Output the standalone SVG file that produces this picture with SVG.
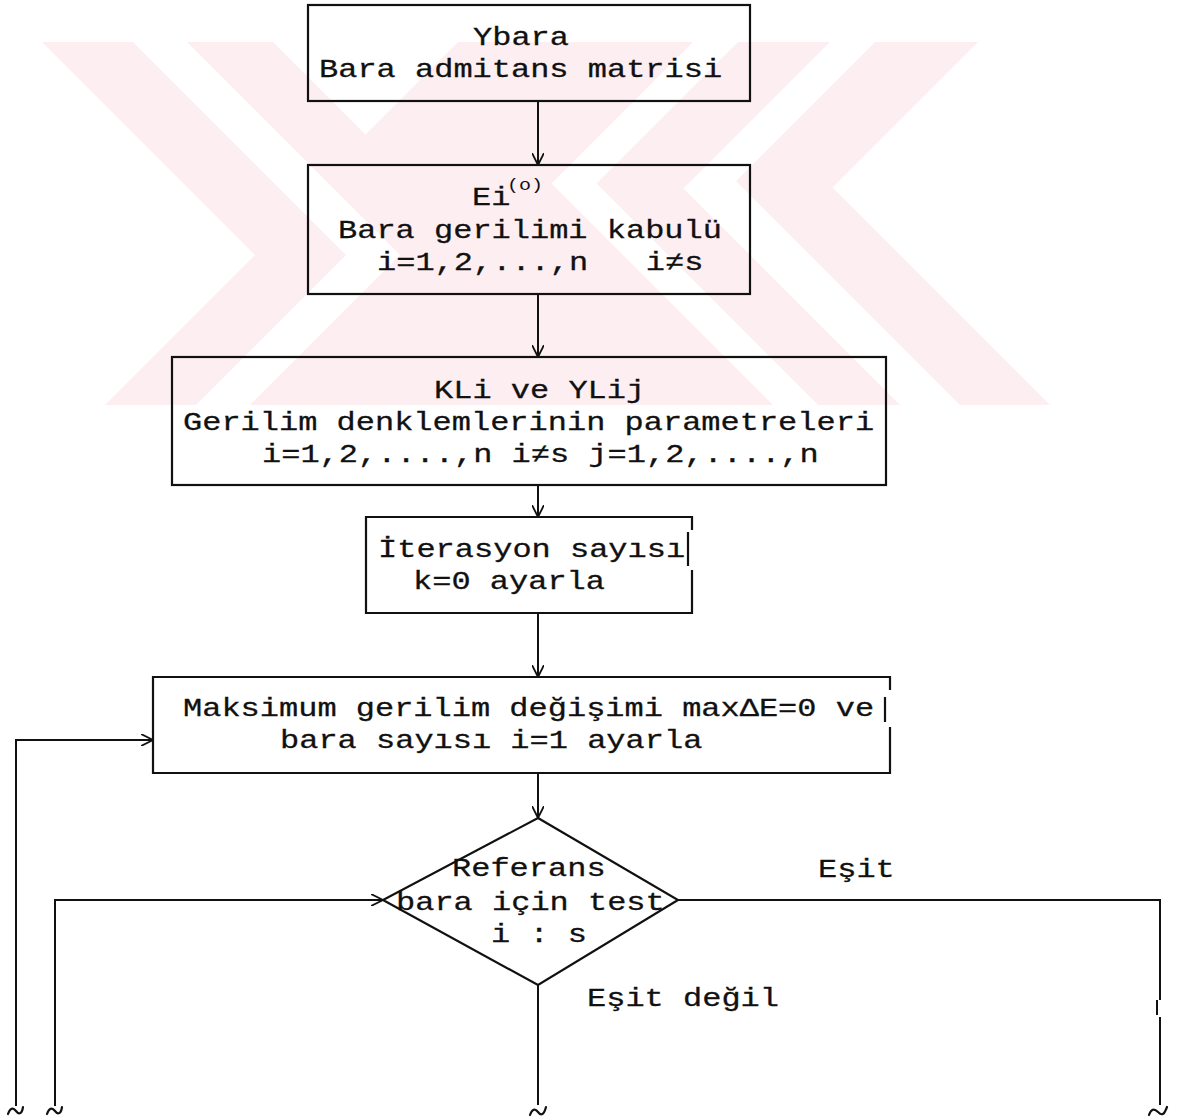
<svg xmlns="http://www.w3.org/2000/svg" width="1189" height="1117" viewBox="0 0 1189 1117">
<style>
.wm{fill:#fdeef1;stroke:none}
.box{fill:none;stroke:#111;stroke-width:2.2}
.t{font-family:"Liberation Mono","Courier New",monospace;font-size:32px;fill:#111;stroke:#111;stroke-width:0.35;white-space:pre}
.sup{font-family:"Liberation Mono","Courier New",monospace;font-size:20px;fill:#111;white-space:pre}
.c{fill:none;stroke:#111;stroke-width:2}
.sq{fill:none;stroke:#111;stroke-width:2.2;stroke-linecap:round}
</style>
<defs>
<marker id="ah" viewBox="0 0 12 12" refX="12" refY="6" markerWidth="12" markerHeight="12" markerUnits="userSpaceOnUse" orient="auto">
<path d="M0,0 L12,6 L0,12" fill="none" stroke="#111" stroke-width="1.8"/>
</marker>
</defs>
<rect width="1189" height="1117" fill="#fff"/>
<g id="watermark">
<polygon class="wm" points="42,42 133,42 346,255 196,405 105,405 255,255"/>
<polygon class="wm" points="187,42 273,42 365.5,134.5 458,42 693,42 551.5,183.5 773,405 250,405 400,255"/>
<polygon class="wm" points="738,42 830,42 683.5,188.5 900,405 818,405 596.5,183.5"/>
<polygon class="wm" points="875,42 978,42 832.5,187.5 1050,405 960,405 736,181"/>
</g>
<g id="connectors">
<path class="c" d="M538,101 V165" marker-end="url(#ah)"/>
<path class="c" d="M538,294 V357" marker-end="url(#ah)"/>
<path class="c" d="M538,485 V517" marker-end="url(#ah)"/>
<path class="c" d="M538,613 V677" marker-end="url(#ah)"/>
<path class="c" d="M538,773 V818" marker-end="url(#ah)"/>
<path class="c" d="M16,1106 V740 H153" marker-end="url(#ah)"/>
<path class="c" d="M55,1106 V900 H383" marker-end="url(#ah)"/>
<path class="c" d="M678,900 H1160 V1000 M1157,1000 V1015 M1160,1017 V1105"/>
<path class="c" d="M538,985 V1105"/>
<path class="sq" d="M8,1114 c2,-6 5,-7 8,-3 s6,3 7,-4"/>
<path class="sq" d="M47,1114 c2,-6 5,-7 8,-3 s6,3 7,-4"/>
<path class="sq" d="M530,1115 c2,-6 5,-7 8,-3 s6,3 8,-5"/>
<path class="sq" d="M1149,1115 c2,-6 5,-7 9,-3 s6,3 9,-5"/>
</g>
<g id="n1">
<rect class="box" x="308" y="5" width="442" height="96"/>
<text class="t" transform="translate(473,45) scale(1,0.8)">Ybara</text>
<text class="t" transform="translate(319,77) scale(1,0.8)">Bara admitans matrisi</text>
</g>
<g id="n2">
<rect class="box" x="308" y="165" width="442" height="129"/>
<text class="t" transform="translate(472,205) scale(1,0.8)">Ei</text>
<text class="sup" transform="translate(507,190) scale(1,0.85)">(o)</text>
<text class="t" transform="translate(338,238) scale(1,0.8)">Bara gerilimi kabulü</text>
<text class="t" transform="translate(377,270) scale(1,0.8)">i=1,2,...,n   i≠s</text>
</g>
<g id="n3">
<rect class="box" x="172" y="357" width="714" height="128"/>
<text class="t" transform="translate(434,398) scale(1,0.8)">KLi ve YLij</text>
<text class="t" transform="translate(183,430) scale(1,0.8)">Gerilim denklemlerinin parametreleri</text>
<text class="t" transform="translate(262,462) scale(1,0.8)">i=1,2,....,n i≠s j=1,2,....,n</text>
</g>
<g id="n4">
<path class="box" d="M692,530 V517 H366 V613 H692 V570 M688,532 V566"/>
<text class="t" transform="translate(378,557) scale(1,0.8)">İterasyon sayısı</text>
<text class="t" transform="translate(413,589) scale(1,0.8)">k=0 ayarla</text>
</g>
<g id="n5">
<path class="box" d="M890,690 V677 H153 V773 H890 V727 M885,697 V722"/>
<text class="t" transform="translate(183,716) scale(1,0.8)">Maksimum gerilim değişimi maxΔE=0 ve</text>
<text class="t" transform="translate(280,748) scale(1,0.8)">bara sayısı i=1 ayarla</text>
</g>
<g id="n6">
<polygon class="box" points="538,818 678,900 538,985 383,900"/>
<text class="t" transform="translate(452,876) scale(1,0.8)">Referans</text>
<text class="t" transform="translate(396,910) scale(1,0.8)">bara için test</text>
<text class="t" transform="translate(491,942) scale(1,0.8)">i : s</text>
</g>
<g id="labels">
<text class="t" transform="translate(818,877) scale(1,0.8)">Eşit</text>
<text class="t" transform="translate(587,1006) scale(1,0.8)">Eşit değil</text>
</g>
</svg>
